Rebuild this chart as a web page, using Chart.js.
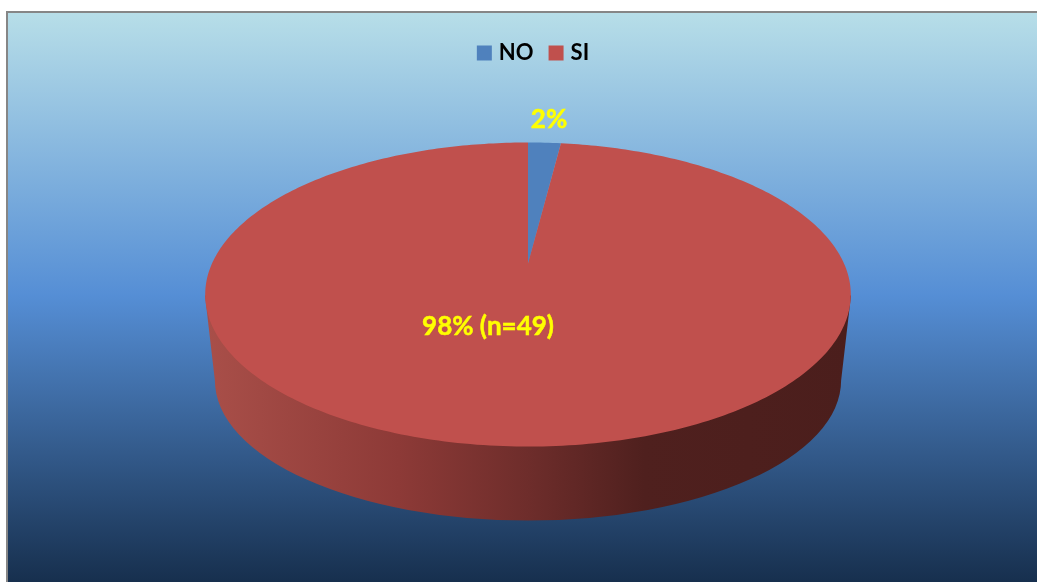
<!DOCTYPE html>
<html>
<head>
<meta charset="utf-8">
<style>
html,body{margin:0;padding:0;width:1037px;height:582px;overflow:hidden;background:#fff}
#frame{position:absolute;left:6px;top:11px;border:2px solid #868686;border-bottom:0;border-right:0;width:1029px;height:571px;
background:linear-gradient(180deg,#b7dee8 0px,#558ed5 283px,#10253f 600px)}
#wrap{position:absolute;left:0;top:0;width:1037px;height:582px}
</style>
</head>
<body>
<div id="frame"></div>
<div id="wrap"><canvas id="c" width="1037" height="582"></canvas></div>
<script src="https://cdn.jsdelivr.net/npm/chart.js@4"></script>
<script>
const categories = ["NO", "SI"];
const seriesValues = [1, 49];
const sliceColors = ["#4f81bd", "#c0504d"];
const dataLabels = ["2%", "98% (n=49)"];

// Perspective pie: the library computes each slice's centre, radius and angles,
// and this plugin projects them onto the tilted disc.
const pie3d = {
  id: "pie3d",
  afterLayout(chart) {
    chart.legend.left += 7;
    chart.legend.right += 7;
  },
  beforeDatasetDraw(chart, args) {
    const ctx = chart.ctx;
    const arcs = chart.getDatasetMeta(args.index).data;
    const cx = arcs[0].x, cy = arcs[0].y, r = arcs[0].outerRadius;
    const rx = r * 2.125;
    // side wall
    const g = ctx.createLinearGradient(cx - rx, 0, cx + rx, 0);
    g.addColorStop(0, "#a94f49");
    g.addColorStop(0.3, "#8d3a37");
    g.addColorStop(0.5, "#6e2d2b");
    g.addColorStop(0.68, "#4f201e");
    g.addColorStop(1, "#4b1e1c");
    ctx.save();
    ctx.fillStyle = g;
    ctx.beginPath();
    ctx.moveTo(cx - rx, cy);
    ctx.lineTo(cx - r * 2.06, cy + r * 0.56);
    ctx.ellipse(cx, cy + r * 0.56, r * 2.06, r * 0.921, 0, Math.PI, 0, true);
    ctx.lineTo(cx + rx, cy);
    ctx.closePath();
    ctx.fill();
    // top face
    const apexY = cy - r * 0.2105;
    const C = 0.204, A = r * 0.9586, R = r * 2.079;
    arcs.forEach((arc, i) => {
      const a0 = arc.startAngle + Math.PI / 2, a1 = arc.endAngle + Math.PI / 2;
      const steps = Math.max(2, Math.ceil((a1 - a0) * 60));
      ctx.beginPath();
      ctx.moveTo(cx, apexY);
      for (let s = 0; s <= steps; s++) {
        const t = a0 + (a1 - a0) * s / steps;
        const w = 1 + C * Math.cos(t);
        ctx.lineTo(cx + R * Math.sin(t) / w, apexY - A * Math.cos(t) / w);
      }
      ctx.closePath();
      ctx.fillStyle = arc.options.backgroundColor;
      ctx.fill();
    });
    ctx.restore();
    return false;
  },
  afterDraw(chart) {
    const ctx = chart.ctx;
    const arc = chart.getDatasetMeta(0).data[0];
    const offsets = [[21, -176], [-40, 31]];
    ctx.save();
    ctx.font = "bold 26px Lato";
    ctx.fillStyle = "#ffff00";
    ctx.strokeStyle = "#ffff00";
    ctx.lineWidth = 0.5;
    ctx.textAlign = "center";
    ctx.textBaseline = "middle";
    dataLabels.forEach((t, i) => {
      ctx.fillText(t, arc.x + offsets[i][0], arc.y + offsets[i][1]);
      ctx.strokeText(t, arc.x + offsets[i][0], arc.y + offsets[i][1]);
    });
    ctx.restore();
  }
};

new Chart(document.getElementById("c"), {
  type: "pie",
  data: {
    labels: categories,
    datasets: [{ data: seriesValues, backgroundColor: sliceColors, borderWidth: 0 }]
  },
  options: {
    responsive: false,
    animation: false,
    radius: 152,
    layout: { padding: { top: 23, left: 19, right: 0, bottom: 65 } },
    plugins: {
      tooltip: { enabled: false },
      legend: {
        position: "top",
        labels: {
          usePointStyle: true, pointStyle: "rect",
          boxWidth: 7, boxHeight: 15, padding: 19, color: "#000",
          font: { family: "Lato", size: 22, weight: "bold" }
        }
      }
    }
  },
  plugins: [pie3d]
});
</script>
</body>
</html>
